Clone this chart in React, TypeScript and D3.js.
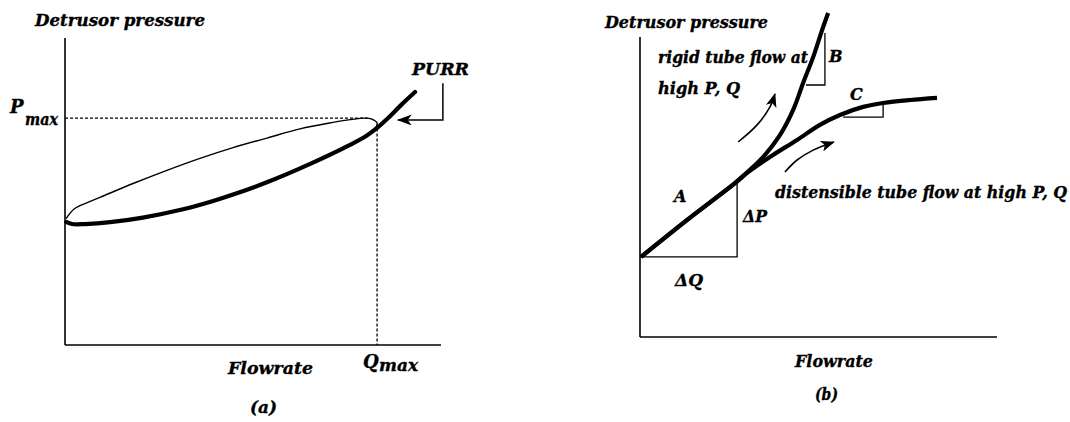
import React from "react";
import * as d3 from "d3";

// ---------- Panel (a): pressure–flow loop ----------
// Filling / early-flow branch (thin line), flowrate vs detrusor pressure
const loopUpperQ = [0.3, 2.5, 5.9, 9.3, 18.1, 27.1, 35.9, 44.7, 53.7, 62.5, 71.3, 75.8, 79.8, 81.6, 83.0, 82.4, 81.1];
const loopUpperP = [41.2, 44.4, 46.4, 48.1, 52.6, 56.9, 60.8, 64.3, 67.4, 70.4, 72.5, 73.4, 73.9, 73.6, 72.3, 70.4, 69.1];
// Voiding branch continuing into the PURR (thick line)
const loopLowerQ = [0.3, 1.9, 5.3, 12.0, 20.7, 31.4, 39.4, 44.7, 53.7, 65.2, 75.8, 80.0, 83.0, 86.0, 89.5, 93.1];
const loopLowerP = [40.1, 39.4, 39.4, 40.0, 41.5, 44.2, 46.9, 49.0, 53.0, 59.0, 65.2, 68.0, 70.7, 74.0, 78.3, 82.4];
const pMax = 73.9;
const qMax = 83.0;
// PURR pointer: elbow path (flowrate, pressure)
const purrQ = [100.5, 100.5, 88.5];
const purrP = [85.3, 73.3, 73.3];

// ---------- Panel (b): rigid vs distensible tube ----------
const rigidQ = [0.3, 13.4, 26.6, 30.8, 34.5, 39.2, 42.9, 45.7, 48.5, 51.0, 52.7];
const rigidP = [26.7, 39.2, 51.3, 55.7, 60.0, 67.3, 75.7, 84.7, 93.3, 102.3, 108.0];
const distQ = [0.3, 13.4, 26.6, 30.0, 36.4, 44.0, 50.4, 56.0, 62.5, 68.1, 75.6, 83.2];
const distP = [26.7, 39.2, 51.3, 54.7, 60.0, 65.7, 70.7, 74.0, 76.7, 78.0, 79.0, 79.7];
// Slope triangles: [q0, q1, pBase, pTop]
const slopeA = [0.0, 27.2, 26.7, 51.7];
const slopeB = [46.5, 51.8, 84.0, 101.3];
const slopeC = [56.9, 68.1, 73.3, 78.0];
// Curved direction arrows
const arrowRigidQ = [27.5, 32.8, 36.4, 37.8];
const arrowRigidP = [65.0, 70.7, 76.7, 81.0];
const arrowDistQ = [40.6, 44.0, 48.5, 54.3];
const arrowDistP = [55.0, 59.0, 62.3, 65.0];

const FONT = "'DejaVu Serif', 'Liberation Serif', serif";

type Pt = [number, number];
const zip = (a: number[], b: number[]): Pt[] => a.map((v, i) => [v, b[i]]);

const textStyle = {
  fontFamily: FONT,
  fontStyle: "italic",
  fontWeight: "bold" as const,
  fill: "#000",
  stroke: "#000",
  strokeWidth: 0.35,
};

function Label(props: {
  x: number;
  y: number;
  size?: number;
  width?: number;
  children: React.ReactNode;
}) {
  const { x, y, size = 16, width, children } = props;
  return (
    <text
      x={x}
      y={y}
      style={textStyle}
      fontSize={size}
      textLength={width}
      lengthAdjust={width ? "spacingAndGlyphs" : undefined}
    >
      {children}
    </text>
  );
}

export default function App() {
  // scales for panel (a)
  const xa = d3.scaleLinear().domain([0, 100]).range([65, 441]);
  const ya = d3.scaleLinear().domain([0, 100]).range([345, 38]);
  // scales for panel (b)
  const xb = d3.scaleLinear().domain([0, 100]).range([640, 997]);
  const yb = d3.scaleLinear().domain([0, 100]).range([337, 37]);

  const lineA = d3
    .line<Pt>()
    .x((d) => xa(d[0]))
    .y((d) => ya(d[1]))
    .curve(d3.curveCatmullRom.alpha(0.5));
  const lineB = d3
    .line<Pt>()
    .x((d) => xb(d[0]))
    .y((d) => yb(d[1]))
    .curve(d3.curveCatmullRom.alpha(0.5));
  const polyA = d3.line<Pt>().x((d) => xa(d[0])).y((d) => ya(d[1]));
  const polyB = d3.line<Pt>().x((d) => xb(d[0])).y((d) => yb(d[1]));

  const tri = (s: number[]): Pt[] => [
    [s[0], s[2]],
    [s[1], s[2]],
    [s[1], s[3]],
  ];

  return (
    <svg
      width={1070}
      height={422}
      viewBox="0 0 1070 422"
      style={{ position: "absolute", left: 0, top: 0, background: "#fff" }}
    >
      <defs>
        <marker
          id="headFilled"
          viewBox="0 0 14 11"
          refX={13}
          refY={5.5}
          markerWidth={14}
          markerHeight={11}
          markerUnits="userSpaceOnUse"
          orient="auto"
        >
          <path d="M0,0 L14,5.5 L0,11 L3.5,5.5 Z" fill="#000" />
        </marker>
        <marker
          id="headPurr"
          viewBox="0 0 15 11"
          refX={14}
          refY={5.5}
          markerWidth={15}
          markerHeight={11}
          markerUnits="userSpaceOnUse"
          orient="auto"
        >
          <path d="M0,0 L15,5.5 L0,11 L4,5.5 Z" fill="#000" />
        </marker>
      </defs>

      {/* ===== Panel (a) ===== */}
      <g>
        {/* axes */}
        <line x1={xa(0)} y1={ya(100)} x2={xa(0)} y2={ya(0)} stroke="#000" strokeWidth={1.6} />
        <line x1={xa(0)} y1={ya(0)} x2={xa(100)} y2={ya(0)} stroke="#000" strokeWidth={1.6} />

        {/* Pmax / Qmax guides */}
        <line
          x1={xa(0)}
          y1={ya(pMax)}
          x2={xa(80.5)}
          y2={ya(pMax)}
          stroke="#000"
          strokeWidth={1.3}
          strokeDasharray="3,2"
        />
        <line
          x1={xa(qMax)}
          y1={ya(70.5)}
          x2={xa(qMax)}
          y2={ya(0)}
          stroke="#000"
          strokeWidth={1.3}
          strokeDasharray="3,2"
        />

        {/* loop */}
        <path d={lineA(zip(loopUpperQ, loopUpperP)) || ""} fill="none" stroke="#000" strokeWidth={1.4} />
        <path
          d={lineA(zip(loopLowerQ, loopLowerP)) || ""}
          fill="none"
          stroke="#000"
          strokeWidth={4.2}
          strokeLinecap="round"
        />

        {/* PURR pointer */}
        <path
          d={polyA(zip(purrQ, purrP)) || ""}
          fill="none"
          stroke="#000"
          strokeWidth={1.5}
          markerEnd="url(#headPurr)"
        />

        <Label x={35} y={26} width={170}>Detrusor pressure</Label>
        <text x={10} y={113} style={textStyle} fontSize={18}>
          P
          <tspan x={25} y={125} fontSize={16} textLength={33} lengthAdjust="spacingAndGlyphs">
            max
          </tspan>
        </text>
        <Label x={412} y={75} width={57}>PURR</Label>
        <Label x={228} y={374} size={17} width={85}>Flowrate</Label>
        <text x={363} y={368} style={textStyle} fontSize={18}>
          Q
          <tspan x={379} y={371} fontSize={16} textLength={39} lengthAdjust="spacingAndGlyphs">
            max
          </tspan>
        </text>
        <Label x={250} y={413} size={17} width={27}>(a)</Label>
      </g>

      {/* ===== Panel (b) ===== */}
      <g>
        <line x1={xb(0)} y1={yb(100)} x2={xb(0)} y2={yb(0)} stroke="#000" strokeWidth={1.6} />
        <line x1={xb(0)} y1={yb(0)} x2={xb(100)} y2={yb(0)} stroke="#000" strokeWidth={1.6} />

        {/* slope triangles */}
        <path d={polyB(tri(slopeA)) || ""} fill="none" stroke="#000" strokeWidth={1.3} />
        <path d={polyB(tri(slopeB)) || ""} fill="none" stroke="#000" strokeWidth={1.3} />
        <path d={polyB(tri(slopeC)) || ""} fill="none" stroke="#000" strokeWidth={1.3} />

        {/* flow curves */}
        <path d={lineB(zip(distQ, distP)) || ""} fill="none" stroke="#000" strokeWidth={4.2} />
        <path d={lineB(zip(rigidQ, rigidP)) || ""} fill="none" stroke="#000" strokeWidth={4.2} />

        {/* direction arrows */}
        <path
          d={lineB(zip(arrowRigidQ, arrowRigidP)) || ""}
          fill="none"
          stroke="#000"
          strokeWidth={1.6}
          markerEnd="url(#headFilled)"
        />
        <path
          d={lineB(zip(arrowDistQ, arrowDistP)) || ""}
          fill="none"
          stroke="#000"
          strokeWidth={1.6}
          markerEnd="url(#headFilled)"
        />

        <Label x={605} y={28} width={163}>Detrusor pressure</Label>
        <Label x={658} y={63} width={150}>rigid tube flow at</Label>
        <Label x={658} y={94} width={82}>high P, Q</Label>
        <Label x={829} y={62}>B</Label>
        <Label x={850} y={100}>C</Label>
        <Label x={674} y={202}>A</Label>
        <Label x={743} y={222} width={24}>ΔP</Label>
        <Label x={675} y={286} width={28}>ΔQ</Label>
        <Label x={775} y={198} width={292}>distensible tube flow at high P, Q</Label>
        <Label x={795} y={367} size={17} width={78}>Flowrate</Label>
        <Label x={815} y={400} size={17} width={23}>(b)</Label>
      </g>
    </svg>
  );
}
